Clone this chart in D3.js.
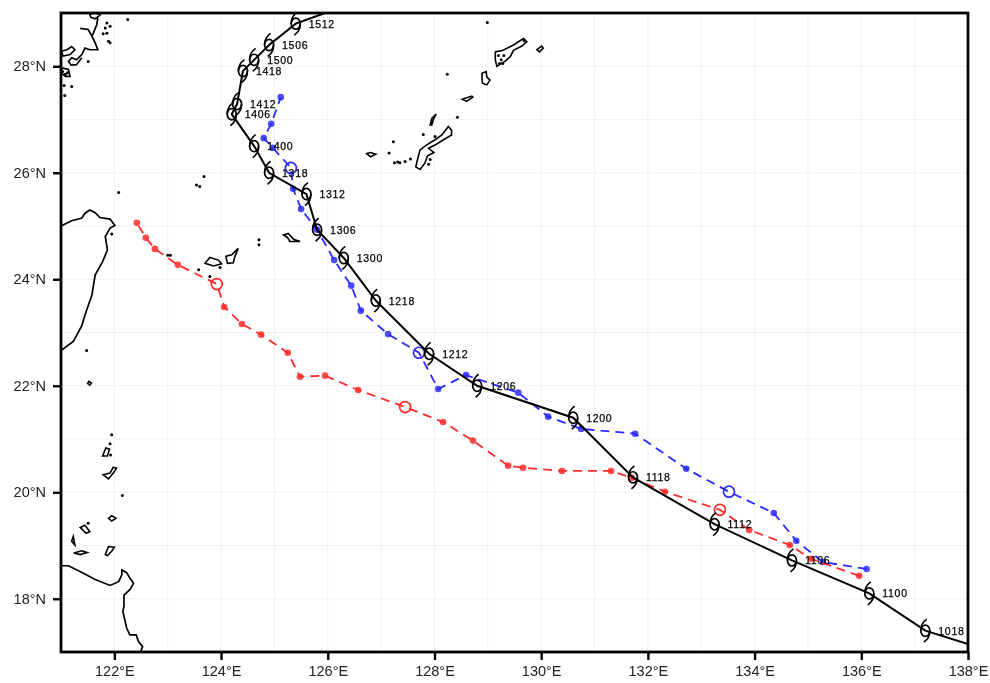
<!DOCTYPE html>
<html>
<head>
<meta charset="utf-8">
<style>
  html, body { margin: 0; padding: 0; background: #fff; }
  svg { display: block; filter: blur(0.55px); }
</style>
<script src="https://d3js.org/d3.v7.min.js"></script>
</head>
<body>
<div class="chart"></div>
<script>
// Track data (lon / lat in degrees)
var bestTimes = ["", "1018", "1100", "1106", "1112", "1118", "1200", "1206", "1212", "1218", "1300",
  "1306", "1312", "1318", "1400", "1406", "1412", "1418", "1500", "1506", "1512", ""];
var bestLon = [138.0, 137.2, 136.15, 134.7, 133.25, 131.72, 130.6, 128.8, 127.9, 126.9, 126.3,
  125.8, 125.6, 124.9, 124.62, 124.2, 124.3, 124.41, 124.62, 124.9, 125.4, 125.95];
var bestLat = [17.15, 17.4, 18.1, 18.72, 19.4, 20.28, 21.4, 22.0, 22.6, 23.6, 24.4,
  24.93, 25.6, 26.0, 26.5, 27.1, 27.29, 27.91, 28.12, 28.4, 28.8, 29.0];

var blueLon = [136.1, 135.28, 134.78, 134.36, 133.52, 132.72, 131.76, 130.75, 130.13, 129.57, 128.59,
  128.07, 127.71, 127.13, 126.62, 126.44, 126.12, 125.8, 125.5, 125.35, 125.31, 124.97, 124.8, 124.94, 125.12];
var blueLat = [18.56, 18.69, 19.09, 19.61, 20.01, 20.44, 21.1, 21.19, 21.42, 21.87, 22.2,
  21.94, 22.62, 22.97, 23.41, 23.88, 24.36, 24.93, 25.32, 25.7, 26.09, 26.47, 26.65, 26.92, 27.42];
var blueRings = [4, 12, 20];

var redLon = [135.96, 135.06, 134.66, 133.9, 133.35, 132.32, 131.7, 131.31, 130.39, 129.66, 129.38,
  128.72, 128.16, 127.45, 126.57, 125.95, 125.48, 125.25, 124.75, 124.39, 124.06, 123.92, 123.19, 122.76, 122.59, 122.42];
var redLat = [18.43, 18.75, 19.01, 19.29, 19.67, 20.01, 20.27, 20.4, 20.4, 20.46, 20.5,
  20.97, 21.32, 21.6, 21.92, 22.19, 22.17, 22.62, 22.96, 23.16, 23.48, 23.91, 24.27, 24.57, 24.78, 25.06];
var redRings = [4, 13, 21];

// Tick labels
var lonTicks = [122, 124, 126, 128, 130, 132, 134, 136, 138];
var latTicks = [18, 20, 22, 24, 26, 28];
var gridLon = d3.range(122, 138);
var gridLat = d3.range(18, 29);

// Coastlines, open lines first
var taiwan = [[121,25.0],[121.2,25.1],[121.39,25.15],[121.45,25.24],[121.54,25.3],[121.64,25.25],[121.73,25.16],[121.92,25.13],
  [122.01,25.01],[121.92,24.96],[121.83,24.8],[121.87,24.55],[121.78,24.33],[121.64,24.08],[121.58,23.71],[121.45,23.33],
  [121.39,23.13],[121.23,22.83],[121,22.66]];
var luzon = [[121,18.62],[121.14,18.62],[121.42,18.48],[121.64,18.36],[121.92,18.25],[122.08,18.32],[122.14,18.45],[122.14,18.54],
  [122.23,18.49],[122.29,18.39],[122.36,18.29],[122.29,18.17],[122.18,18.07],[122.18,17.86],[122.16,17.76],[122.23,17.45],
  [122.29,17.32],[122.41,17.32],[122.45,17.2],[122.53,17.1],[122.49,17.0]];
var chinaCoast = [[121.69,28.91],[121.67,28.78],[121.58,28.56],[121.64,28.44],[121.69,28.31],[121.54,28.31],[121.45,28.34],
  [121.39,28.22],[121.29,28.12],[121.2,28.16],[121.14,28.09],[121.19,28.02],[121.29,28.03],[121.39,28.16]];
var chinaSpur = [[121.36,28.71],[121.51,28.69],[121.58,28.56]];

var islands = [
  [[121.54,28.97],[121.64,29.0],[121.73,28.96],[121.64,28.89],[121.56,28.92]],
  [[121.01,28.28],[121.11,28.31],[121.2,28.37],[121.26,28.31],[121.17,28.22],[121.04,28.19]],
  [[121.01,27.97],[121.14,27.94],[121.17,27.81],[121.08,27.81],[121.01,27.87]],
  [[123.7,24.3],[123.79,24.41],[123.95,24.36],[124.01,24.29],[123.86,24.25]],
  [[124.09,24.43],[124.2,24.46],[124.32,24.58],[124.26,24.43],[124.23,24.31],[124.12,24.3]],
  [[125.17,24.83],[125.26,24.86],[125.36,24.75],[125.48,24.71],[125.29,24.71],[125.24,24.79]],
  [[121.78,20.68],[121.84,20.83],[121.91,20.81],[121.87,20.68]],
  [[121.79,20.33],[121.92,20.36],[121.98,20.47],[122.04,20.45],[121.98,20.36],[121.89,20.25]],
  [[121.89,19.51],[121.95,19.56],[122.03,19.51],[121.95,19.46]],
  [[121.36,19.34],[121.45,19.38],[121.54,19.26],[121.47,19.23]],
  [[121.2,19.08],[121.23,19.17],[121.26,19.01]],
  [[121.24,18.86],[121.39,18.9],[121.49,18.87],[121.36,18.83]],
  [[121.83,18.83],[121.89,18.98],[122.0,18.97],[121.95,18.89],[121.87,18.81]],
  [[129.14,28.27],[129.29,28.3],[129.48,28.4],[129.67,28.52],[129.73,28.46],[129.64,28.38],[129.48,28.3],[129.42,28.18],[129.32,28.09],[129.17,28.0],[129.14,28.12]],
  [[129.92,28.31],[130.01,28.38],[130.04,28.34],[129.97,28.27]],
  [[128.89,27.87],[128.97,27.9],[128.98,27.8],[129.04,27.74],[128.98,27.65],[128.9,27.68],[128.89,27.77]],
  [[128.52,27.38],[128.7,27.44],[128.72,27.42],[128.6,27.34]],
  [[127.92,26.9],[127.95,27.02],[128.03,27.1],[127.98,27.0],[127.95,26.9]],
  [[128.26,26.87],[128.32,26.8],[128.32,26.71],[128.17,26.62],[128.01,26.52],[127.89,26.46],[127.99,26.38],[127.87,26.32],[127.82,26.18],[127.73,26.06],[127.65,26.11],[127.68,26.24],[127.73,26.43],[127.85,26.52],[128.01,26.62],[128.14,26.71]],
  [[126.73,26.36],[126.8,26.38],[126.9,26.35],[126.8,26.3]],
  [[121.52,22.08],[121.57,22.05],[121.54,22.01],[121.5,22.04]]
];

var isletLon = [123.0, 123.05, 124.71, 124.71, 123.79, 123.98, 123.58, 121.48, 121.95, 121.95, 121.92, 121.93, 122.15, 121.51,
  127.23, 127.15, 127.31, 127.25, 127.35, 128.01, 127.79, 127.45, 127.55, 127.92, 127.89, 128.24, 128.99, 128.43,
  122.25, 123.68, 123.54, 123.6, 122.08, 121.86, 121.92, 121.83, 121.79, 121.86, 121.89, 121.92, 121.51, 121.2, 121.07, 121.06,
  129.2, 129.25, 129.3, 129.22, 129.28, 129.68, 121.03, 121.08, 121.12];
var isletLat = [24.45, 24.45, 24.74, 24.65, 24.05, 24.22, 24.18, 22.66, 24.85, 21.08, 20.91, 20.7, 19.94, 19.42,
  26.58, 26.37, 26.2, 26.19, 26.19, 26.68, 26.72, 26.21, 26.26, 26.25, 26.16, 27.85, 28.82, 27.04,
  28.88, 25.93, 25.77, 25.74, 25.63, 28.81, 28.75, 28.72, 28.61, 28.62, 28.47, 28.44, 28.09, 27.62, 27.45, 27.64,
  28.2, 28.12, 28.2, 28.05, 28.05, 28.48, 27.9, 27.85, 27.88];

var svgWidth = 990;
var svgHeight = 683;
var margin = { top: 13, right: 22, bottom: 31, left: 61 };
var width = svgWidth - margin.left - margin.right;
var height = svgHeight - margin.top - margin.bottom;

var svg = d3.select(".chart")
  .append("svg")
  .attr("width", svgWidth)
  .attr("height", svgHeight);

var chartGroup = svg.append("g")
  .attr("transform", `translate(${margin.left}, ${margin.top})`);

var x = d3.scaleLinear().domain([121, 138]).range([0, width]);
var y = d3.scaleLinear().domain([17, 29]).range([height, 0]);

svg.append("clipPath").attr("id", "plot")
  .append("rect").attr("width", width).attr("height", height);

var plot = chartGroup.append("g").attr("clip-path", "url(#plot)");

// Grid
plot.selectAll(".gx").data(gridLon).enter().append("line")
  .attr("x1", d => x(d)).attr("x2", d => x(d)).attr("y1", 0).attr("y2", height)
  .attr("stroke", "#f1f1f1").attr("stroke-width", 1);
plot.selectAll(".gy").data(gridLat).enter().append("line")
  .attr("y1", d => y(d)).attr("y2", d => y(d)).attr("x1", 0).attr("x2", width)
  .attr("stroke", "#f1f1f1").attr("stroke-width", 1);

// Map
var coastLine = d3.line().x(d => x(d[0])).y(d => y(d[1]));
var coastClosed = d3.line().x(d => x(d[0])).y(d => y(d[1])).curve(d3.curveLinearClosed);

plot.selectAll(".coast").data([taiwan, luzon, chinaCoast, chinaSpur]).enter().append("path")
  .attr("d", coastLine).attr("fill", "none").attr("stroke", "#000").attr("stroke-width", 1.7);
plot.selectAll(".island").data(islands).enter().append("path")
  .attr("d", coastClosed).attr("fill", "none").attr("stroke", "#000").attr("stroke-width", 1.6);
plot.selectAll(".islet").data(isletLon).enter().append("circle")
  .attr("cx", d => x(d)).attr("cy", (d, i) => y(isletLat[i])).attr("r", 1.5).attr("fill", "#000");

// Forecast tracks
function drawForecast(lons, lats, rings, color) {
  var pts = lons.map((d, i) => [d, lats[i]]);
  plot.append("path")
    .attr("d", coastLine(pts))
    .attr("fill", "none")
    .attr("stroke", color)
    .attr("stroke-width", 1.8)
    .attr("stroke-dasharray", "9,6");
  plot.selectAll(null).data(pts.filter((d, i) => rings.indexOf(i) < 0)).enter().append("circle")
    .attr("cx", d => x(d[0])).attr("cy", d => y(d[1])).attr("r", 3.3)
    .attr("fill", color).attr("fill-opacity", 0.85);
  plot.selectAll(null).data(pts.filter((d, i) => rings.indexOf(i) >= 0)).enter().append("circle")
    .attr("cx", d => x(d[0])).attr("cy", d => y(d[1])).attr("r", 5.5)
    .attr("fill", "none").attr("stroke", color).attr("stroke-width", 1.7);
}
drawForecast(blueLon, blueLat, blueRings, "#2a2aff");
drawForecast(redLon, redLat, redRings, "#ff2a2a");

// Best track with typhoon symbols
var bestPts = bestLon.map((d, i) => ({ lon: d, lat: bestLat[i], time: bestTimes[i] }));
plot.append("path")
  .attr("d", coastLine(bestPts.map(d => [d.lon, d.lat])))
  .attr("fill", "none").attr("stroke", "#000").attr("stroke-width", 2);

var storm = plot.selectAll(".storm").data(bestPts.filter(d => d.time)).enter().append("g")
  .attr("transform", d => `translate(${x(d.lon)}, ${y(d.lat)})`);
storm.append("ellipse").attr("rx", 4.5).attr("ry", 5.6)
  .attr("fill", "none").attr("stroke", "#000").attr("stroke-width", 1.7);
storm.append("path").attr("d", "M-4.5,0C-4.7,-5 -2,-9 1.5,-11.5M4.5,0C4.7,5 2,9 -1.5,11.5")
  .attr("fill", "none").attr("stroke", "#000").attr("stroke-width", 1.6);
storm.append("text").attr("x", 13).attr("y", 4)
  .style("font-family", "'Liberation Sans'").style("font-size", "10.5px")
  .style("letter-spacing", "0.7px")
  .attr("fill", "#000").attr("stroke", "#000").attr("stroke-width", 0.25)
  .text(d => d.time);

// Axes
var bottomAxis = d3.axisBottom(x).tickValues(lonTicks).tickSize(8).tickPadding(6).tickFormat(d => d + "°E");
var leftAxis = d3.axisLeft(y).tickValues(latTicks).tickSize(8).tickPadding(7).tickFormat(d => d + "°N");

var xAxis = chartGroup.append("g").attr("transform", `translate(0, ${height})`).call(bottomAxis);
var yAxis = chartGroup.append("g").call(leftAxis);
[xAxis, yAxis].forEach(function(a) {
  a.select(".domain").remove();
  a.selectAll("line").attr("stroke", "#000").attr("stroke-width", 2.4);
  a.selectAll("text").attr("fill", "#222")
    .style("font-family", "'Liberation Sans'").style("font-size", "14.5px");
});

chartGroup.append("rect")
  .attr("width", width).attr("height", height)
  .attr("fill", "none").attr("stroke", "#000").attr("stroke-width", 2.8);
</script>
</body>
</html>
